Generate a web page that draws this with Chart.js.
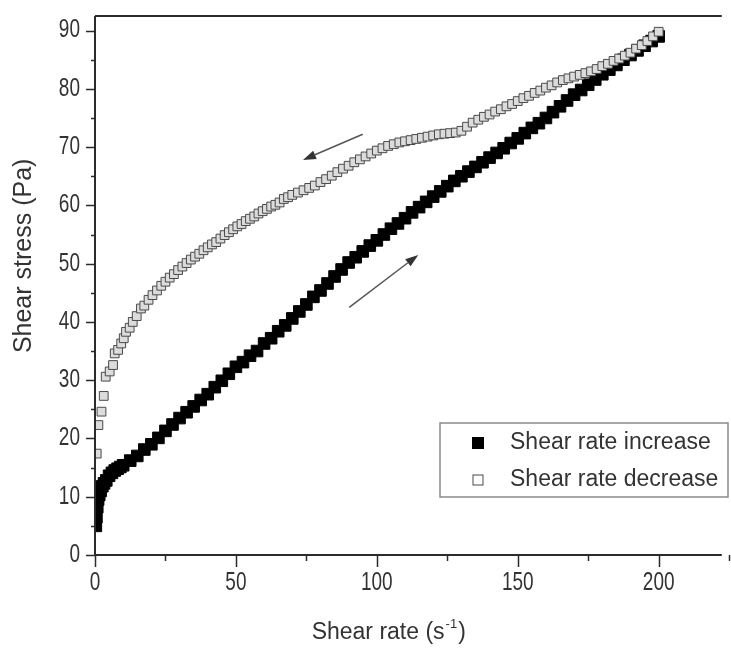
<!DOCTYPE html>
<html>
<head>
<meta charset="utf-8">
<script src="https://cdn.jsdelivr.net/npm/chart.js@4"></script>
<style>
  body { margin: 0; background: #fff; }
  canvas { display: block; }
</style>
</head>
<body>
<canvas id="flowCurve" width="731" height="654"></canvas>
<script>
// shear rate increase (filled squares)
const incX = [0.3, 0.5, 0.8, 1.1, 1.5, 2, 2.6, 3.2, 4, 5, 6, 7, 8, 9,
  10, 12.5, 15, 17.5, 20, 22.5, 25, 27.5, 30, 32.5, 35, 37.5, 40, 42.5, 45, 47.5,
  50, 52.5, 55, 57.5, 60, 62.5, 65, 67.5, 70, 72.5, 75, 77.5, 80, 82.5, 85, 87.5,
  90, 92.5, 95, 97.5, 100, 102.5, 105, 107.5, 110, 112.5, 115, 117.5, 120, 122.5, 125, 127.5,
  130, 132.5, 135, 137.5, 140, 142.5, 145, 147.5, 150, 152.5, 155, 157.5, 160, 162.5, 165, 167.5,
  170, 172.5, 175, 177.5, 180, 182.5, 185, 187.5, 190, 192.5, 195, 197.5, 200];
const incY = [5.0, 6.5, 8.2, 9.5, 10.3, 11.0, 11.8, 12.3, 12.8, 13.6, 14.1, 14.5, 14.8, 15.1,
  15.4, 16.2, 17.0, 18.1, 19.0, 20.1, 21.3, 22.4, 23.5, 24.5, 25.5, 26.6, 27.6, 28.8, 29.9, 31.1,
  32.3, 33.1, 34.2, 35.0, 36.3, 37.2, 38.4, 39.4, 40.6, 41.8, 43.0, 44.3, 45.4, 46.6, 47.8, 49.0,
  50.2, 51.1, 52.1, 53.1, 54.0, 55.0, 56.0, 56.9, 57.8, 58.8, 59.7, 60.6, 61.5, 62.4, 63.3, 64.2,
  65.0, 65.8, 66.6, 67.4, 68.2, 69.0, 69.8, 70.7, 71.5, 72.4, 73.3, 74.1, 75.0, 76.0, 77.0, 78.0,
  79.0, 79.8, 80.7, 81.6, 82.5, 83.3, 84.1, 85.0, 85.8, 86.6, 87.4, 88.2, 89.0];

// shear rate decrease (open squares)
const decX = [0.6, 1.2, 2.3, 3.1, 3.8, 5.2, 6.4, 7, 8.2, 9.3, 10.2, 11, 12.3, 13.4, 14.8, 16.3,
  17.5, 19, 20.4, 22, 23.5, 25, 26.5, 28, 29.5, 31, 32.5, 34, 35.5, 37, 38.5, 40,
  41.5, 43, 44.5, 46, 47.5, 49, 50.5, 52, 53.5, 55, 56.5, 58, 59.5, 61, 62.5, 64,
  65.5, 67, 68.5, 70, 72, 74, 76, 78, 80, 82, 84, 86, 88, 90, 92, 94,
  96, 98, 100, 102, 104, 106, 108, 110, 112, 114, 116, 118, 120, 122, 124, 126,
  128, 130, 132, 134, 136, 138, 140, 142, 144, 146, 148, 150, 152, 154, 156, 158,
  160, 162, 164, 166, 168, 170, 172, 174, 176, 178, 180, 182, 184, 186, 188, 190,
  192, 194, 196, 198, 200];
const decY = [17.4, 22.3, 24.6, 27.3, 30.6, 31.5, 32.6, 34.6, 35.2, 36.3, 37.2, 38.3, 39.0, 40.0, 41.0, 42.3,
  42.8, 43.8, 44.6, 45.4, 46.2, 46.9, 47.6, 48.2, 48.9, 49.5, 50.1, 50.7, 51.2, 51.7, 52.3, 52.8,
  53.3, 53.7, 54.3, 54.9, 55.4, 55.9, 56.4, 56.8, 57.3, 57.7, 58.1, 58.6, 59.0, 59.4, 59.8, 60.1,
  60.5, 61.1, 61.4, 61.8, 62.2, 62.6, 63.0, 63.4, 64.0, 64.5, 65.1, 65.7, 66.3, 66.8, 67.4, 67.9,
  68.4, 68.9, 69.4, 69.8, 70.2, 70.5, 70.8, 71.0, 71.2, 71.4, 71.6, 71.8, 72.0, 72.2, 72.3, 72.4,
  72.5, 72.8, 73.5, 74.2, 74.7, 75.2, 75.6, 76.1, 76.5, 77.0, 77.4, 77.9, 78.4, 78.8, 79.3, 79.7,
  80.2, 80.6, 81.1, 81.5, 81.8, 82.1, 82.4, 82.7, 83.0, 83.4, 83.9, 84.3, 84.8, 85.2, 85.7, 86.2,
  86.9, 87.5, 88.2, 89.0, 89.8];

const seriesNames = ["Shear rate increase", "Shear rate decrease"];
const xTicks = [0, 50, 100, 150, 200];
const yTicks = [0, 10, 20, 30, 40, 50, 60, 70, 80, 90];
const xTitle = ["Shear rate (s", "-1", ")"];
const yTitle = "Shear stress (Pa)";

// direction arrows, in data units [x1, y1, x2, y2] (head at x2, y2)
const arrows = [
  [95, 72.2, 73.8, 67.8],
  [90.2, 42.5, 114.7, 51.5]
];

function toPoints(xs, ys) {
  return xs.map((x, i) => ({ x: x, y: ys[i] }));
}

const FONT = "'Liberation Sans', Arial, sans-serif";

const framePlugin = {
  id: 'frame',
  afterDraw(chart) {
    const ctx = chart.ctx;
    const xs = chart.scales.x, ys = chart.scales.y;
    const area = chart.chartArea;
    ctx.save();
    ctx.strokeStyle = '#2b2b2b';
    ctx.lineWidth = 2;
    ctx.beginPath();
    ctx.moveTo(area.left, area.top);
    ctx.lineTo(area.right, area.top);
    ctx.moveTo(area.left, area.top);
    ctx.lineTo(area.left, area.bottom);
    ctx.lineTo(area.right, area.bottom);
    ctx.stroke();

    // y tick marks, major every 10, minor every 5
    ctx.lineWidth = 1.5;
    ctx.beginPath();
    for (let v = 0; v <= 90; v += 5) {
      const py = Math.round(ys.getPixelForValue(v)) + 0.5;
      const len = v % 10 === 0 ? 9 : 4;
      ctx.moveTo(area.left - len, py);
      ctx.lineTo(area.left, py);
    }
    // x tick marks, major every 50, minor every 25
    for (let v = 0; v <= 225; v += 25) {
      const px = Math.round(xs.getPixelForValue(v)) + 0.5;
      const len = v % 50 === 0 ? 12 : 6;
      ctx.moveTo(px, area.bottom);
      ctx.lineTo(px, area.bottom + len);
    }
    ctx.stroke();

    // tick labels: tall, condensed digits as in the source figure
    ctx.fillStyle = '#333';
    ctx.font = '25px ' + FONT;
    ctx.textBaseline = 'middle';
    const squeeze = 0.76;
    ys.ticks.forEach(t => {
      const py = ys.getPixelForValue(t.value);
      ctx.save();
      ctx.translate(area.left - 15, py);
      ctx.scale(squeeze, 1);
      ctx.textAlign = 'right';
      ctx.fillText(String(t.value), 0, 0);
      ctx.restore();
    });
    xs.ticks.forEach(t => {
      const px = xs.getPixelForValue(t.value);
      ctx.save();
      ctx.translate(px, area.bottom + 28);
      ctx.scale(squeeze, 1);
      ctx.textAlign = 'center';
      ctx.fillText(String(t.value), 0, 0);
      ctx.restore();
    });

    // axis titles
    ctx.fillStyle = '#333';
    ctx.font = '23px ' + FONT;
    ctx.textAlign = 'left';
    ctx.textBaseline = 'middle';
    const mainW = ctx.measureText(xTitle[0]).width;
    const closeW = ctx.measureText(xTitle[2]).width;
    ctx.font = '13px ' + FONT;
    const supW = ctx.measureText(xTitle[1]).width;
    const cx = area.left + (area.right - area.left) * 0.467;
    let tx = cx - (mainW + supW + closeW) / 2;
    const ty = 633;
    ctx.font = '23px ' + FONT;
    ctx.fillText(xTitle[0], tx, ty);
    tx += mainW;
    ctx.font = '13px ' + FONT;
    ctx.fillText(xTitle[1], tx + 1, ty - 9);
    tx += supW + 2;
    ctx.font = '23px ' + FONT;
    ctx.fillText(xTitle[2], tx, ty);

    ctx.save();
    ctx.translate(24, area.top + (area.bottom - area.top) * 0.445);
    ctx.rotate(-Math.PI / 2);
    ctx.font = '25px ' + FONT;
    ctx.textAlign = 'center';
    ctx.fillText(yTitle, 0, 0);
    ctx.restore();

    // arrows
    ctx.strokeStyle = '#555';
    ctx.fillStyle = '#333';
    ctx.lineWidth = 1.5;
    arrows.forEach(a => {
      const x1 = xs.getPixelForValue(a[0]), y1 = ys.getPixelForValue(a[1]);
      const x2 = xs.getPixelForValue(a[2]), y2 = ys.getPixelForValue(a[3]);
      const ang = Math.atan2(y2 - y1, x2 - x1);
      const hl = 13, hw = 4.5;
      const bx = x2 - hl * Math.cos(ang), by = y2 - hl * Math.sin(ang);
      ctx.beginPath();
      ctx.moveTo(x1, y1);
      ctx.lineTo(bx, by);
      ctx.stroke();
      ctx.beginPath();
      ctx.moveTo(x2, y2);
      ctx.lineTo(bx + hw * Math.sin(ang), by - hw * Math.cos(ang));
      ctx.lineTo(bx - hw * Math.sin(ang), by + hw * Math.cos(ang));
      ctx.closePath();
      ctx.fill();
    });

    // legend box in lower right of plot
    const bx0 = 440, by0 = 423, bw = 288, bh = 74;
    ctx.fillStyle = '#fff';
    ctx.fillRect(bx0, by0, bw, bh);
    ctx.strokeStyle = '#8a8a8a';
    ctx.lineWidth = 1.5;
    ctx.strokeRect(bx0, by0, bw, bh);
    ctx.font = '23px ' + FONT;
    ctx.textBaseline = 'middle';
    ctx.textAlign = 'left';
    const order = [1, 0];
    order.forEach((di, row) => {
      const ds = chart.data.datasets[di];
      const cy = by0 + 20 + row * 37;
      const s = row === 0 ? 11 : 10;
      ctx.fillStyle = row === 0 ? '#000' : '#fff';
      ctx.fillRect(478 - s / 2, cy - s / 2, s, s);
      ctx.strokeStyle = ds.borderColor;
      ctx.lineWidth = 1;
      ctx.strokeRect(478 - s / 2, cy - s / 2, s, s);
      ctx.fillStyle = '#333';
      ctx.fillText(ds.label, 510, cy);
    });
    ctx.restore();
  }
};

const chart = new Chart(document.getElementById('flowCurve'), {
  type: 'scatter',
  data: {
    datasets: [
      {
        label: seriesNames[1],
        data: toPoints(decX, decY),
        pointStyle: 'rect',
        pointRadius: 6.2,
        backgroundColor: '#dcdcdc',
        borderColor: '#4a4a4a',
        borderWidth: 1,
        order: 0
      },
      {
        label: seriesNames[0],
        data: toPoints(incX, incY),
        pointStyle: 'rect',
        pointRadius: 8.2,
        backgroundColor: '#000',
        borderColor: '#000',
        borderWidth: 1,
        order: 1
      }
    ]
  },
  options: {
    responsive: false,
    animation: false,
    layout: { padding: { top: 16, right: 0, bottom: 0, left: 0 } },
    plugins: { legend: { display: false }, tooltip: { enabled: false } },
    scales: {
      x: {
        type: 'linear',
        min: 0,
        max: 222.4,
        grid: { display: false, drawTicks: false },
        border: { display: false },
        afterBuildTicks: s => { s.ticks = xTicks.map(v => ({ value: v })); },
        afterFit: s => { s.height = 99; },
        ticks: { display: false }
      },
      y: {
        min: 0,
        max: 92.5,
        grid: { display: false, drawTicks: false },
        border: { display: false },
        afterBuildTicks: s => { s.ticks = yTicks.map(v => ({ value: v })); },
        afterFit: s => { s.width = 95; },
        ticks: { display: false }
      }
    }
  },
  plugins: [framePlugin]
});
</script>
</body>
</html>
